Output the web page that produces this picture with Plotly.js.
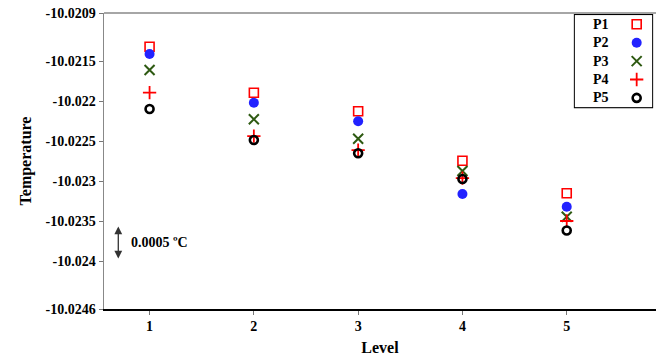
<!DOCTYPE html>
<html>
<head>
<meta charset="utf-8">
<script src="https://cdn.plot.ly/plotly-3.0.1.min.js"></script>
<style>html,body{margin:0;padding:0;background:#fff;}#chart{width:656px;height:361px;}</style>
</head>
<body>
<div id="chart"></div>
<script>
// ---- data ----
const levels = [1, 2, 3, 4, 5];
const seriesNames = ["P1", "P2", "P3", "P4", "P5"];
const p1 = [-10.021321, -10.021896, -10.022129, -10.022746, -10.023154];
const p2 = [-10.021412, -10.022021, -10.022254, -10.023163, -10.023321];
const p3 = [-10.021612, -10.022229, -10.022471, -10.022875, -10.023446];
const p4 = [-10.021896, -10.022438, -10.022613, -10.022963, -10.023500];
const p5 = [-10.022100, -10.022488, -10.022654, -10.022975, -10.023619];
const yTickVals = [-10.0209, -10.0215, -10.022, -10.0225, -10.023, -10.0235, -10.024, -10.0246];
const yTickText = ["-10.0209", "-10.0215", "-10.022", "-10.0225", "-10.023", "-10.0235", "-10.024", "-10.0246"];
const xTickVals = [1, 2, 3, 4, 5];

// ---- styles ----
const serif = "Liberation Serif, Times New Roman, serif";
const styles = [
  {symbol: "square-open", size: 9, color: "#ff0000", line: {width: 1.6, color: "#ff0000"}},
  {symbol: "circle", size: 10, color: "#2222ff", line: {width: 0}},
  {symbol: "x-thin-open", size: 10, color: "#2e5a12", line: {width: 2, color: "#2e5a12"}},
  {symbol: "cross-thin-open", size: 9.5, color: "#ff0000", line: {width: 1.8, color: "#ff0000"}},
  {symbol: "circle-open", size: 8, color: "#000000", line: {width: 2.6, color: "#000000"}}
];
const allSeries = [p1, p2, p3, p4, p5];

const traces = allSeries.map((vals, i) => ({
  x: levels, y: vals, type: "scatter", mode: "markers", name: seriesNames[i],
  marker: styles[i], showlegend: false, cliponaxis: false
}));

// custom legend (markers on the right of the labels, like the reference)
seriesNames.forEach((n, i) => {
  traces.push({
    x: [0.8], y: [1 - (i + 0.5) / 5], xaxis: "x2", yaxis: "y2", type: "scatter",
    mode: "markers", marker: styles[i], showlegend: false, hoverinfo: "skip"
  });
});

const legendAnn = seriesNames.map((n, i) => ({
  xref: "x2", yref: "y2", x: 0.34, y: 1 - (i + 0.5) / 5, text: "<b>" + n + "</b>",
  showarrow: false, font: {family: serif, size: 14, color: "#000"}
}));

const layout = {
  width: 656, height: 361,
  margin: {l: 104, r: 0, t: 13, b: 52},
  paper_bgcolor: "#fff", plot_bgcolor: "#fff",
  font: {family: serif, color: "#000"},
  xaxis: {
    range: [0.563, 5.856], tickvals: xTickVals, ticktext: xTickVals.map(v => "<b>" + v + "</b>"),
    showgrid: false, zeroline: false, showline: true, linecolor: "#000", linewidth: 1.5,
    ticks: "outside", ticklen: 4, tickcolor: "#777", tickwidth: 1,
    tickfont: {family: serif, size: 14, color: "#000"},
    title: {text: "<b>Level</b>", font: {family: serif, size: 16, color: "#000"}, standoff: 8}
  },
  yaxis: {
    range: [-10.0246, -10.0209], tickvals: yTickVals, ticktext: yTickText.map(t => "<b>" + t + "</b>"),
    showgrid: false, zeroline: false, showline: true, linecolor: "#888", linewidth: 1.5,
    ticks: "outside", ticklen: 4, tickcolor: "#777", tickwidth: 1,
    tickfont: {family: serif, size: 14, color: "#000"},
    title: {text: "<b>Temperature</b>", font: {family: serif, size: 16, color: "#000"}, standoff: 10}
  },
  xaxis2: {domain: [0.853, 0.993], range: [0, 1], visible: false, anchor: "y2", fixedrange: true},
  yaxis2: {domain: [0.682, 0.993], range: [0, 1], visible: false, anchor: "x2", fixedrange: true},
  shapes: [
    {type: "line", xref: "paper", yref: "paper", x0: 0, x1: 1, y0: 1, y1: 1,
     line: {color: "#888", width: 1.5}},
    {type: "rect", xref: "paper", yref: "paper", x0: 0.853, x1: 0.993, y0: 0.682, y1: 0.993,
     fillcolor: "#fff", line: {color: "#000", width: 2}, layer: "below"}
  ],
  annotations: legendAnn.concat([
    {xref: "x", yref: "y", x: 0.7, y: -10.02397, axref: "x", ayref: "y", ax: 0.7, ay: -10.02355,
     text: "", showarrow: true, arrowhead: 2, arrowside: "end+start", arrowsize: 1.2,
     arrowwidth: 1.3, arrowcolor: "#333"},
    {xref: "x", yref: "y", x: 0.8, y: -10.02377, xanchor: "left", showarrow: false,
     text: "<b>0.0005 ºC</b>", font: {family: serif, size: 14, color: "#000"}}
  ])
};

Plotly.newPlot("chart", traces, layout, {displayModeBar: false, staticPlot: true});
</script>
</body>
</html>
